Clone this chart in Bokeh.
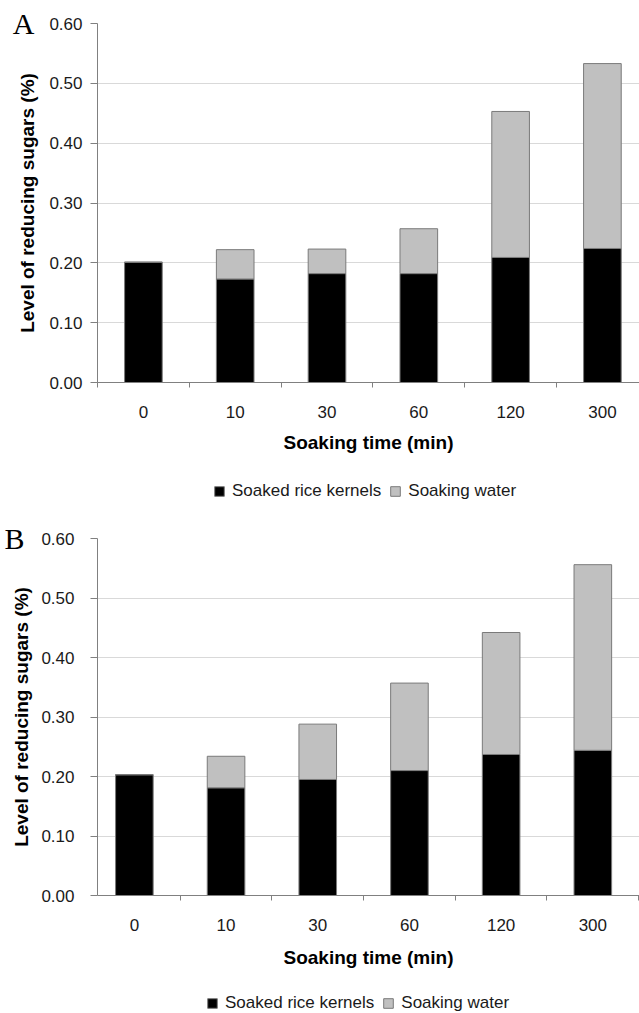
from bokeh.plotting import figure
from bokeh.models import (Range1d, FixedTicker, PrintfTickFormatter, Legend,
                          LegendItem, LinearAxis, ColumnDataSource)
from bokeh.layouts import column
from bokeh.embed import file_html
from bokeh.resources import INLINE

# ---------------- data ----------------
times = ["0", "10", "30", "60", "120", "300"]
a_kernels = [0.201, 0.173, 0.182, 0.182, 0.209, 0.224]
a_water = [0.000, 0.049, 0.041, 0.075, 0.244, 0.309]
b_kernels = [0.203, 0.181, 0.195, 0.210, 0.237, 0.244]
b_water = [0.000, 0.053, 0.093, 0.147, 0.205, 0.312]
y_ticks = [0.0, 0.1, 0.2, 0.3, 0.4, 0.5, 0.6]
series_names = ["Soaked rice kernels", "Soaking water"]
panel_letters = ["A", "B"]
x_title = "Soaking time (min)"
y_title = "Level of reducing sugars (%)"

FONT = "Liberation Sans"
W = 639
BAR_STYLES = [dict(fill_color="#000000", line_color="#7a7a7a"),
              dict(fill_color="#c0c0c0", line_color="#7a7a7a")]


def bar_source(kernels, water):
    xs = [i + 0.5 for i in range(len(times))]
    tops = [k + w for k, w in zip(kernels, water)]
    return ColumnDataSource(dict(x=xs, k=kernels, t=tops))


def draw_bars(p, src):
    r1 = p.vbar(x="x", width=0.41, bottom=0, top="k", source=src,
                line_width=1, **BAR_STYLES[0])
    r2 = p.vbar(x="x", width=0.41, bottom="k", top="t", source=src,
                line_width=1, **BAR_STYLES[1])
    return [r1, r2]


def make_panel(letter, src, height, top, bottom, x_start, x_end,
               tick_standoff, ylab_standoff, xlab_standoff, letter_standoff):
    xs = list(src.data["x"])
    p = figure(width=W, height=height,
               x_range=Range1d(x_start, x_end), y_range=Range1d(0, 0.6),
               output_backend="svg", toolbar_location=None,
               min_border_left=97, min_border_right=0,
               min_border_top=top, min_border_bottom=bottom)
    p.outline_line_color = None
    draw_bars(p, src)

    xa = p.xaxis[0]
    xa.ticker = FixedTicker(ticks=xs, minor_ticks=list(range(len(times) + 1)))
    xa.major_label_overrides = {x: t for x, t in zip(xs, times)}
    xa.major_tick_out = 0
    xa.major_tick_in = 0
    xa.minor_tick_out = 5
    xa.minor_tick_in = 0
    xa.minor_tick_line_color = "#808080"
    xa.axis_line_color = "#808080"
    xa.major_label_standoff = 18
    xa.major_label_text_font = FONT
    xa.major_label_text_font_size = "17px"
    xa.major_label_text_color = "#1a1a1a"
    xa.axis_label = x_title
    xa.axis_label_text_font = FONT
    xa.axis_label_text_font_size = "19px"
    xa.axis_label_text_font_style = "bold"
    xa.axis_label_text_color = "#000000"
    xa.axis_label_standoff = xlab_standoff

    ya = p.yaxis[0]
    ya.ticker = FixedTicker(ticks=y_ticks, minor_ticks=[])
    ya.formatter = PrintfTickFormatter(format="%.2f")
    ya.major_tick_out = 7
    ya.major_tick_in = 0
    ya.major_tick_line_color = "#808080"
    ya.minor_tick_line_color = None
    ya.axis_line_color = "#808080"
    ya.major_label_standoff = tick_standoff
    ya.major_label_text_font = FONT
    ya.major_label_text_font_size = "17px"
    ya.major_label_text_color = "#1a1a1a"
    ya.axis_label = y_title
    ya.axis_label_text_font = FONT
    ya.axis_label_text_font_size = "19px"
    ya.axis_label_text_font_style = "bold"
    ya.axis_label_text_color = "#000000"
    ya.axis_label_standoff = ylab_standoff

    # panel letter: the only label of an outer, line-less axis
    la = LinearAxis(ticker=FixedTicker(ticks=[y_ticks[-1]], minor_ticks=[]),
                    major_label_overrides={y_ticks[-1]: letter})
    la.axis_line_color = None
    la.major_tick_line_color = None
    la.minor_tick_line_color = None
    la.major_tick_out = 0
    la.major_tick_in = 0
    la.major_label_standoff = letter_standoff
    la.major_label_text_font = "Liberation Serif"
    la.major_label_text_font_size = "30px"
    la.major_label_text_color = "#000000"
    p.add_layout(la, "left")

    p.xgrid.visible = False
    p.ygrid.grid_line_color = "#d9d9d9"
    p.ygrid.grid_line_width = 1
    return p


def make_legend_strip(src, height, glyph_left, bottom_offset):
    """Thin plot holding only the legend; its bars lie below its y range."""
    q = figure(width=W, height=height, x_range=Range1d(0, W - 97),
               y_range=Range1d(1, 1 + height), output_backend="svg",
               toolbar_location=None, x_axis_type=None, y_axis_type=None,
               min_border=0, min_border_left=97)
    q.outline_line_color = None
    q.xgrid.visible = False
    q.ygrid.visible = False
    rs = draw_bars(q, src)
    legend = Legend(items=[LegendItem(label=n, renderers=[r])
                           for n, r in zip(series_names, rs)],
                    location=(glyph_left, bottom_offset),
                    orientation="horizontal",
                    glyph_width=12, glyph_height=12, label_standoff=7,
                    spacing=8, padding=0, margin=0,
                    border_line_color=None, background_fill_alpha=0,
                    label_text_font=FONT, label_text_font_size="17px",
                    label_text_color="#1a1a1a")
    q.add_layout(legend, "center")
    return q


srcA = bar_source(a_kernels, a_water)
srcB = bar_source(b_kernels, b_water)

pA = make_panel(panel_letters[0], srcA, height=470, top=23, bottom=88,
                x_start=0.0, x_end=5.904, tick_standoff=8, ylab_standoff=8,
                xlab_standoff=11, letter_standoff=-20)
legA = make_legend_strip(srcA, 38, 116, 7)
pB = make_panel(panel_letters[1], srcB, height=462, top=30, bottom=73,
                x_start=0.098, x_end=6.009, tick_standoff=16,
                ylab_standoff=6, xlab_standoff=13, letter_standoff=-16)
legB = make_legend_strip(srcB, 43, 109, 0)

layout = column(pA, legA, pB, legB, spacing=0)
open("out.html", "w").write(file_html(layout, INLINE))
